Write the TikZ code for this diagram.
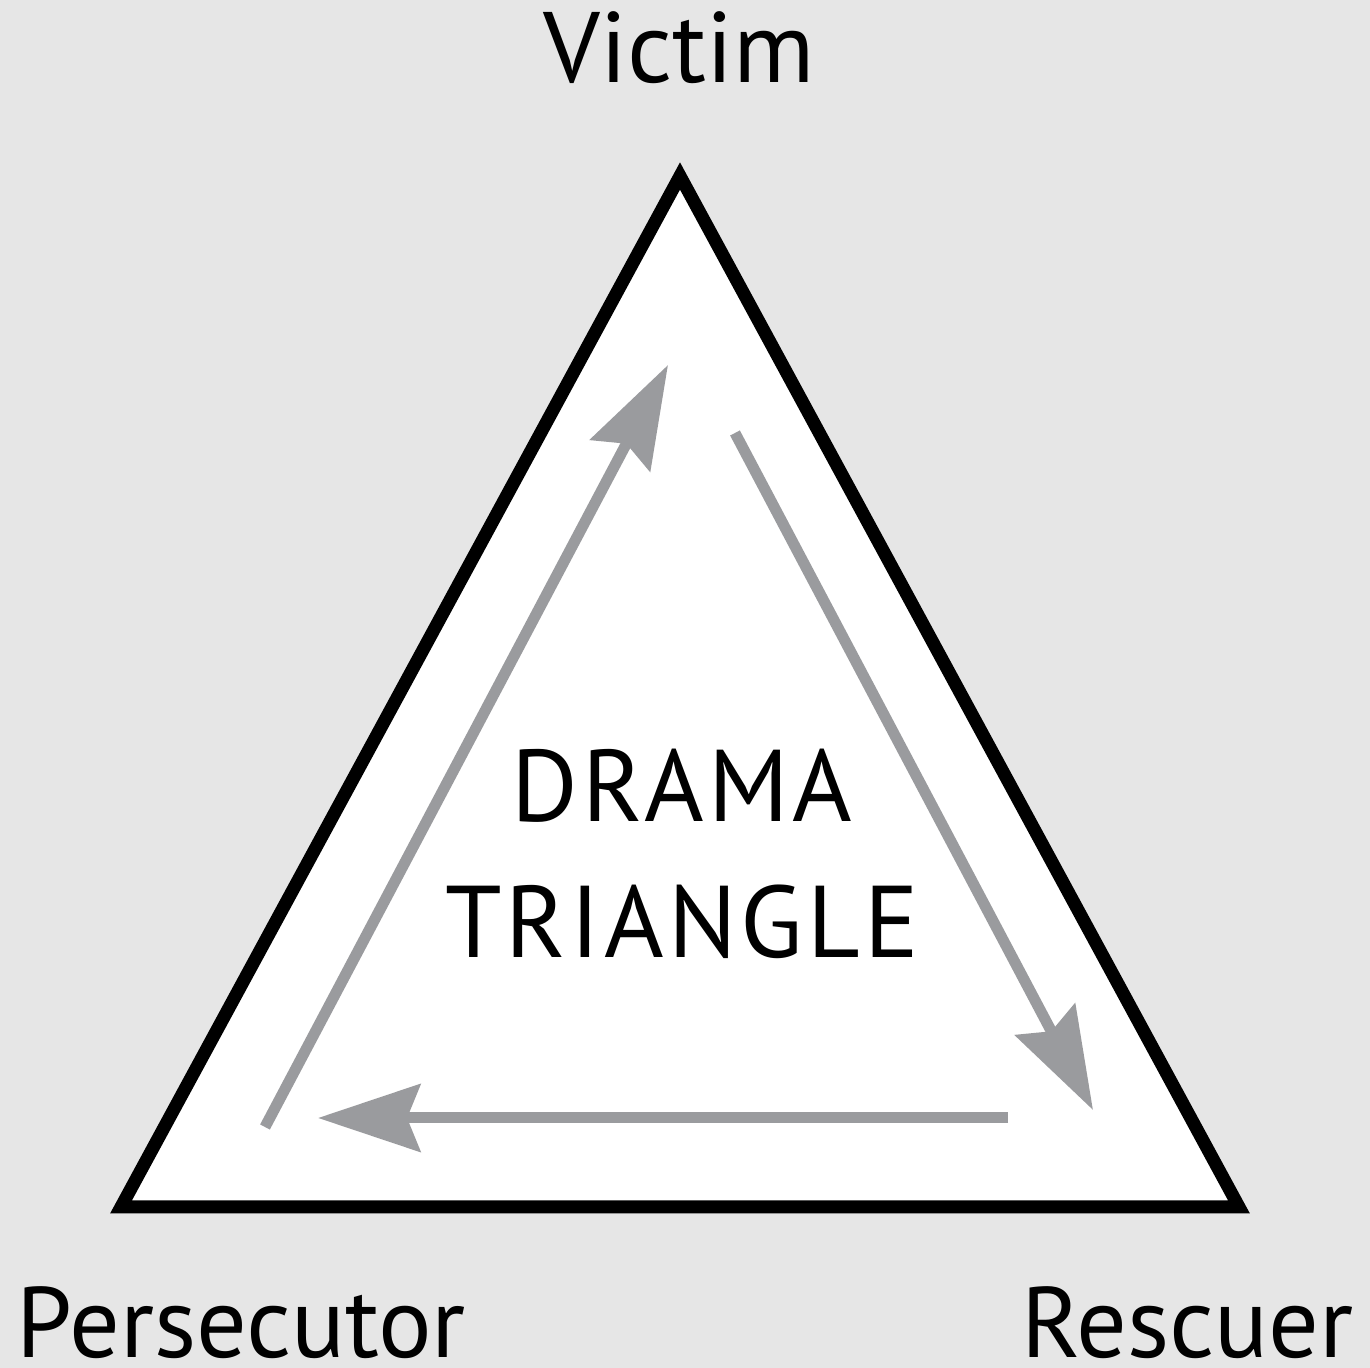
\documentclass[tikz,border=0pt]{standalone}
\usepackage{fontspec}
\setmainfont{PT Sans}
\usepackage{xcolor}
\usetikzlibrary{arrows.meta}

\definecolor{bggray}{HTML}{E6E6E6}
\definecolor{flowgray}{HTML}{9A9B9E}

\begin{document}
\begin{tikzpicture}[
    role/.style={inner sep=0pt, font=\fontsize{28.5}{34}\selectfont},
    title/.style={role, font=\fontsize{29}{34}\selectfont\addfontfeature{LetterSpace=4}},
    frame/.style={draw=black, line width=0.13cm, fill=white, miter limit=10},
    flowarr/.style={draw=flowgray, line width=0.11cm, -{Stealth[length=1.02cm, width=0.67cm, inset=0.13cm]}},
]
    \fill[bggray] (0,0) rectangle (13.70,13.68);
    \useasboundingbox (0,0) rectangle (13.70,13.68);

    % corners of the triangle
    \coordinate (top)   at (6.80,11.92);
    \coordinate (left)  at (1.21,1.61);
    \coordinate (right) at (12.39,1.61);
    \draw[frame] (top) -- (left) -- (right) -- cycle;

    % roles
    \node[role, anchor=base]      (victim) at (6.79,12.85) {Victim};
    \node[role, anchor=base west] (pers)   at (0.16,0.10)  {Persecutor};
    \node[role, anchor=base east] (resc)   at (13.54,0.10) {Rescuer};
    \node[title, anchor=base]     (drama)  at (6.82,5.46)  {DRAMA};
    \node[title, anchor=base]     (tri)    at (6.82,4.10)  {TRIANGLE};

    % ends of the gray arrows
    \coordinate (a1) at (2.65,2.41);
    \coordinate (b1) at (6.68,10.03);
    \coordinate (a2) at (7.35,9.35);
    \coordinate (b2) at (10.93,2.58);
    \coordinate (a3) at (10.08,2.50);
    \coordinate (b3) at (3.18,2.50);

    \draw[flowarr] (a1) -- (b1);
    \draw[flowarr] (a2) -- (b2);
    \draw[flowarr] (a3) -- (b3);
\end{tikzpicture}
\end{document}
